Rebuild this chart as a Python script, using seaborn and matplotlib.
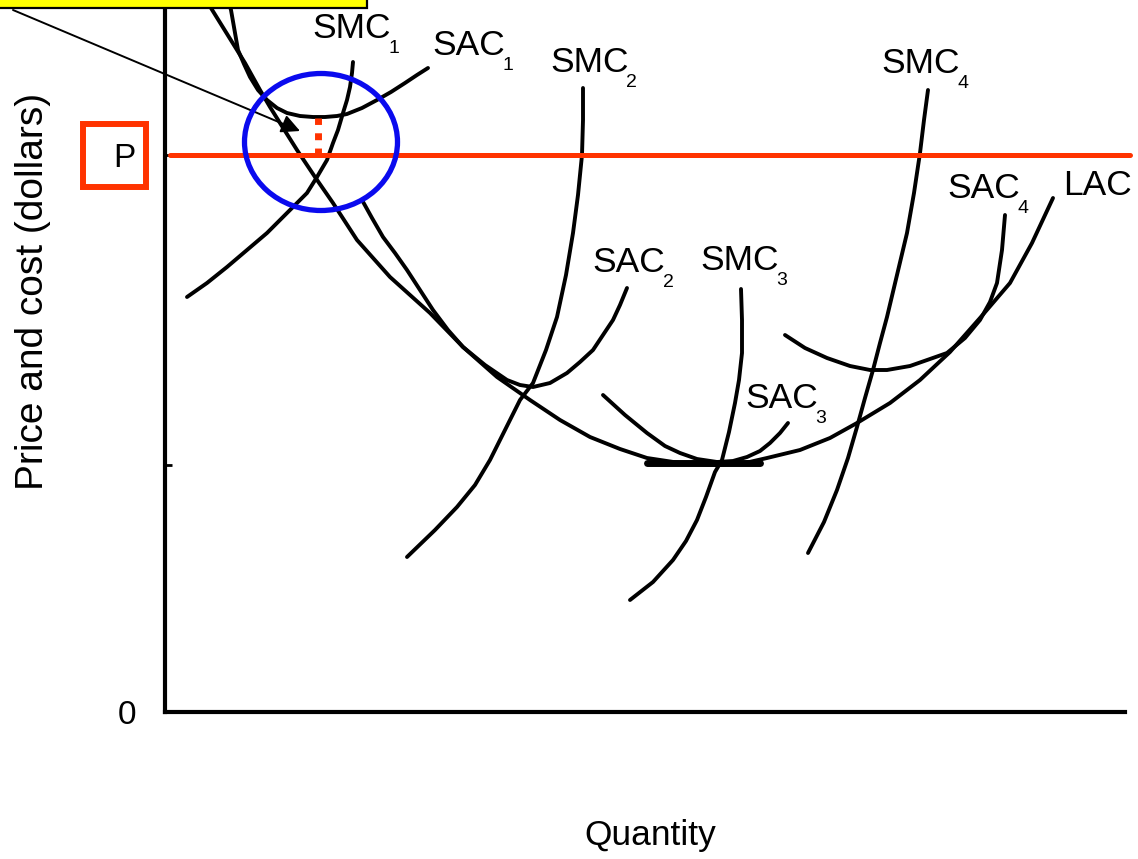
import matplotlib
matplotlib.use("Agg")
import matplotlib.pyplot as plt
from matplotlib.patches import Ellipse, Rectangle
import seaborn as sns

# points: (quantity, price) in plot units
lac_q = [41, 72, 80, 95, 105, 115, 132, 150, 168, 192, 225, 265, 298, 332, 365, 395, 425, 455, 482, 515,
         552, 580, 602, 635, 665, 692, 725, 755, 785, 815, 845, 867, 888]
lac_p = [712, 662, 649, 622, 605, 589, 562, 535, 509, 472, 435, 399, 365, 335, 312, 292, 275, 263, 254, 249,
         247, 249, 254, 262, 274, 289, 309, 332, 360, 394, 429, 469, 514]

sac1_q = [63, 66, 73, 79, 85, 93, 102, 112, 122, 135, 148, 160, 172, 182, 197, 212, 226, 240, 252, 263]
sac1_p = [712, 702, 662, 648, 635, 622, 612, 604, 599, 596, 595, 595, 596, 598, 604, 612, 620, 629, 637, 644]

smc1_q = [22, 42, 62, 82, 102, 115, 128, 142, 152, 162, 168, 173, 178, 182, 185, 187, 188]
smc1_p = [415, 429, 445, 462, 479, 492, 505, 519, 535, 552, 569, 582, 599, 612, 625, 639, 650]

sac2_q = [197, 207, 218, 230, 242, 255, 268, 283, 298, 320, 342, 355, 368, 385, 402, 415, 428, 438, 448, 455, 462]
sac2_p = [512, 494, 475, 459, 442, 422, 402, 382, 365, 347, 332, 327, 325, 329, 339, 350, 362, 377, 392, 407, 424]

smc2_q = [418, 418, 417, 413, 408, 401, 392, 381, 368, 355, 340, 325, 310, 292, 270, 242]
smc2_p = [624, 592, 557, 517, 479, 437, 395, 362, 329, 312, 282, 252, 227, 205, 182, 155]

sac3_q = [438, 460, 482, 500, 515, 532, 552, 568, 582, 595, 605, 615, 623]
sac3_p = [317, 297, 279, 266, 259, 253, 250, 251, 255, 261, 269, 279, 289]

smc3_q = [576, 577, 577, 574, 570, 564, 557, 550, 541, 532, 521, 508, 488, 465]
smc3_p = [423, 392, 359, 332, 309, 280, 252, 240, 215, 192, 171, 152, 130, 112]

sac4_q = [620, 640, 662, 685, 705, 722, 745, 765, 782, 800, 815, 825, 832, 837, 840]
sac4_p = [377, 364, 354, 346, 342, 342, 346, 353, 359, 374, 392, 410, 429, 462, 497]

smc4_q = [763, 759, 755, 749, 742, 732, 722, 715, 708, 700, 692, 683, 672, 659, 643]
smc4_p = [622, 592, 559, 519, 479, 437, 395, 369, 342, 314, 285, 254, 222, 190, 159]

flat_q = [482, 595]
flat_p = [249, 249]

price_q = [5, 965]
price_p = [557, 557]
gap_q = [153, 153]
gap_p = [557, 594]

labels = [("SMC", "1", 147, 674), ("SAC", "1", 267, 657), ("SMC", "2", 385, 640),
          ("SAC", "2", 427, 440), ("SMC", "3", 535, 442), ("SAC", "3", 580, 304),
          ("SMC", "4", 716, 639), ("SAC", "4", 782, 514), ("LAC", "", 898, 517)]

sns.set_theme(style="white")
plt.rcParams["font.family"] = ["Liberation Sans", "DejaVu Sans"]
plt.rcParams["text.color"] = "black"
plt.rcParams["axes.labelcolor"] = "black"
plt.rcParams["ytick.color"] = "black"

red = "#ff3300"
fig = plt.figure(figsize=(11.38, 8.59), dpi=100)
ax = fig.add_axes([165 / 1138, 147 / 859, 970 / 1138, 712 / 859])

curves = [(lac_q, lac_p), (sac1_q, sac1_p), (smc1_q, smc1_p), (sac2_q, sac2_p),
          (smc2_q, smc2_p), (sac3_q, sac3_p), (smc3_q, smc3_p),
          (sac4_q, sac4_p), (smc4_q, smc4_p)]
for q, p in curves:
    sns.lineplot(x=q, y=p, sort=False, estimator=None, color="black", lw=2.8,
                 solid_joinstyle="round", ax=ax)
sns.lineplot(x=flat_q, y=flat_p, sort=False, estimator=None, color="black", lw=5, ax=ax)

# price line and the gap between P and min SAC1
sns.lineplot(x=price_q, y=price_p, estimator=None, color=red, lw=3.6, ax=ax, zorder=3)
ax.plot(gap_q, gap_p, color=red, lw=5, ls=(0, (1, 1.2)), zorder=3)

ax.add_patch(Ellipse((156, 570), 153, 137, fill=False, edgecolor="#0a0aee", lw=3.8, zorder=4))

for name, sub, x, y in labels:
    t = ax.text(x, y, name, fontsize=25.5, ha="left", va="baseline")
    if sub:
        ax.annotate(sub, xy=(1, 0), xycoords=t, xytext=(-1.5, -5.5), textcoords="offset points",
                    fontsize=14, ha="left", va="baseline")

ax.set_xlim(0, 970)
ax.set_ylim(0, 712)
ax.set_xticks([])
ax.set_yticks([0, 557])
ax.set_yticklabels(["0", "P"])
ax.set_yticks([247], minor=True)
ax.tick_params(axis="y", which="both", direction="in", length=5, width=2, pad=21, labelsize=24, left=True)
for s in ["top", "right"]:
    ax.spines[s].set_visible(False)
for s in ["left", "bottom"]:
    ax.spines[s].set_linewidth(3)
    ax.spines[s].set_color("black")
ax.spines["bottom"].set_bounds(0, 960)

ax.add_patch(Rectangle((-82, 525), 63, 63, fill=False, edgecolor=red, lw=4.3, clip_on=False))

ax.set_xlabel("Quantity", fontsize=25.5, labelpad=77)
ax.set_ylabel("Price and cost (dollars)", fontsize=28)
ax.yaxis.set_label_coords(-0.118, 0.59)

# callout box and arrow at the top left
ax.add_patch(Rectangle((-175, 704), 377, 25, facecolor="#ffff00", edgecolor="black",
                       lw=1.6, clip_on=False, zorder=10))
ax.annotate("", xy=(135, 581), xytext=(-152, 702), annotation_clip=False,
            arrowprops=dict(arrowstyle="-|>", color="black", lw=1.4, mutation_scale=28,
                            shrinkA=0, shrinkB=0))

fig.savefig("out.png", dpi=100)
